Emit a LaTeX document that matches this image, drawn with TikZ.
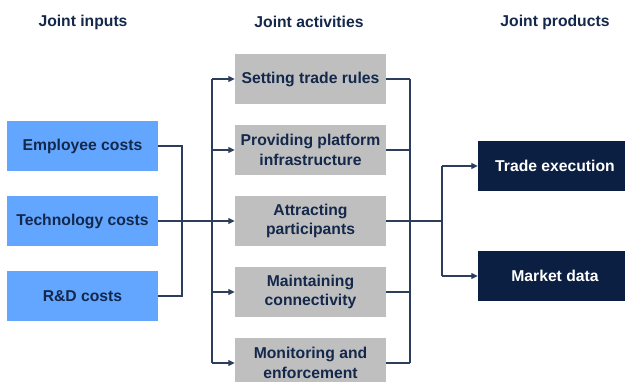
\documentclass[tikz,border=0pt]{standalone}
\usepackage{fontspec}
\setmainfont{Liberation Sans}
\usepackage{tikz}
\usetikzlibrary{arrows.meta}
\usepackage{xcolor}

\definecolor{inblue}{HTML}{63A6FF}
\definecolor{actgray}{HTML}{BFBFBF}
\definecolor{prodnavy}{HTML}{0B1F42}
\definecolor{txtnavy}{HTML}{13284B}
\definecolor{linenavy}{HTML}{2C3E5C}

\tikzset{
  box/.style={minimum width=151pt, minimum height=50pt, inner sep=2pt, align=center,
    font=\fontsize{15.7}{19.5}\selectfont\bfseries},
  inbox/.style={box, fill=inblue, text=txtnavy},
  actbox/.style={box, fill=actgray, text=txtnavy},
  prodbox/.style={box, fill=prodnavy, text=white, minimum width=154pt},
  head/.style={text=txtnavy, font=\fontsize{15.7}{18}\selectfont\bfseries},
  wire/.style={draw=linenavy, line width=1.3pt},
  arr/.style={wire, -{Triangle[length=6.5pt,width=6pt]}}
}

\begin{document}
\begin{tikzpicture}[x=1pt,y=-1pt]
     \useasboundingbox (0,0) rectangle (625,382);

     % column heads
     \node[head] (hin)   at (83,22)  {Joint inputs};
     \node[head] (hact)  at (309,22) {Joint activities};
     \node[head] (hprod) at (555,22) {Joint products};

     % joint inputs
     \node[inbox] (emp)  at (82.5,146) {Employee costs};
     \node[inbox] (tech) at (82.5,221) {Technology costs};
     \node[inbox] (rd)   at (82.5,296) {R\&D costs};

     % joint activities
     \node[actbox] (rules) at (310.5,79)  {Setting trade rules};
     \node[actbox] (infra) at (310.5,150) {Providing platform\\infrastructure};
     \node[actbox] (part)  at (310.5,221) {Attracting\\participants};
     \node[actbox] (conn)  at (310.5,292) {Maintaining\\connectivity};
     \node[actbox] (mon)   at (310.5,363) {Monitoring and\\enforcement};

     % joint products
     \node[prodbox] (trade)  at (555,166) {Trade execution};
     \node[prodbox] (market) at (555,276) {Market data};

     % bus lines
     \coordinate (inbus)   at (182,0);
     \coordinate (actbus)  at (212,0);
     \coordinate (outbus)  at (410,0);
     \coordinate (prodbus) at (442,0);

     % inputs to activities
     \draw[wire] (emp.east) -| (inbus |- rd.east) -- (rd.east);
     \draw[arr] (tech.east) -- (part.west);
     \draw[wire] (actbus |- rules.west) -- (actbus |- mon.west);
     \foreach \n in {rules,infra,conn,mon}
       \draw[arr] (actbus |- \n.west) -- (\n.west);

     % activities to products
     \foreach \n in {rules,infra,part,conn,mon}
       \draw[wire] (\n.east) -- (outbus |- \n.east);
     \draw[wire] (outbus |- rules.east) -- (outbus |- mon.east);
     \draw[wire] (outbus |- part.east) -- (prodbus |- part.east);
     \draw[wire] (prodbus |- trade.west) -- (prodbus |- market.west);
     \draw[arr] (prodbus |- trade.west) -- (trade.west);
     \draw[arr] (prodbus |- market.west) -- (market.west);
\end{tikzpicture}
\end{document}
